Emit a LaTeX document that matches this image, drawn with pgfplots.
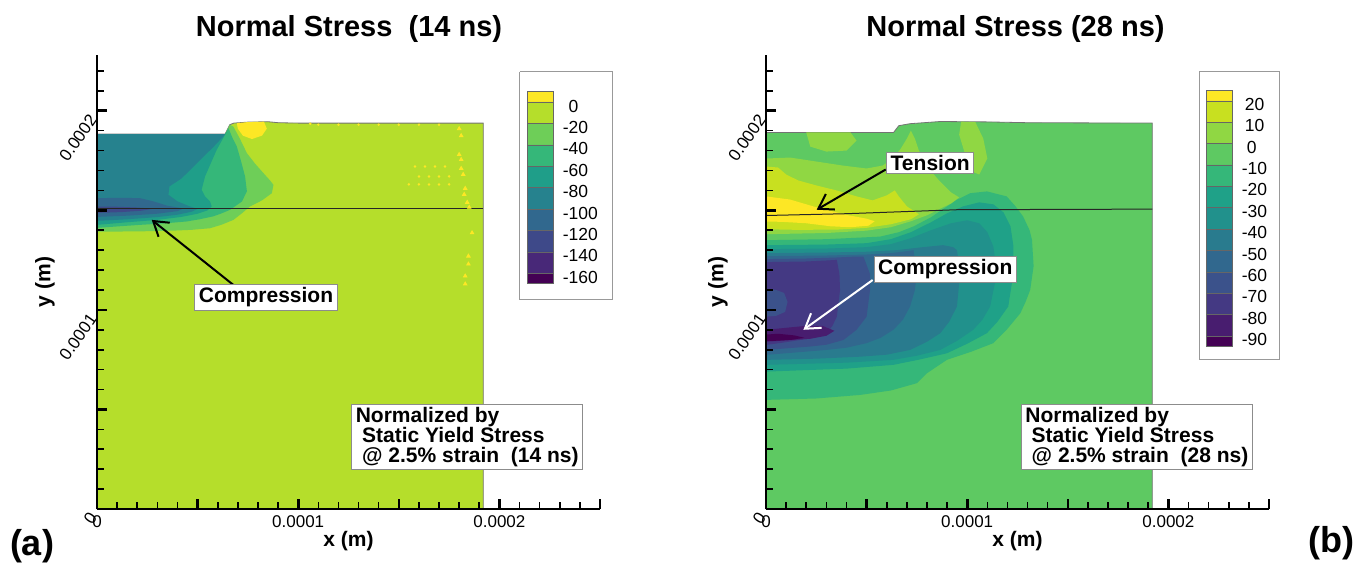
\documentclass[border=0pt]{standalone}
\usepackage{fontspec}
\setmainfont{Liberation Sans}
\usepackage{pgfplots}
\pgfplotsset{compat=1.18}
\usetikzlibrary{arrows.meta}

% contour levels, 14 ns (step 20)
\definecolor{aA}{HTML}{FDE725}
\definecolor{aB}{HTML}{B5DE2B}
\definecolor{aC}{HTML}{6ECE58}
\definecolor{aD}{HTML}{35B779}
\definecolor{aE}{HTML}{1F9E89}
\definecolor{aF}{HTML}{26828E}
\definecolor{aG}{HTML}{31688E}
\definecolor{aH}{HTML}{3E4989}
\definecolor{aI}{HTML}{482878}
\definecolor{aJ}{HTML}{440154}
% contour levels, 28 ns (step 10)
\definecolor{bA}{HTML}{FDE725}
\definecolor{bB}{HTML}{C8E020}
\definecolor{bC}{HTML}{90D743}
\definecolor{bD}{HTML}{5EC962}
\definecolor{bE}{HTML}{35B779}
\definecolor{bF}{HTML}{1FA188}
\definecolor{bG}{HTML}{21918C}
\definecolor{bH}{HTML}{297B8E}
\definecolor{bI}{HTML}{31688E}
\definecolor{bJ}{HTML}{3B528B}
\definecolor{bK}{HTML}{443983}
\definecolor{bL}{HTML}{481D6F}
\definecolor{bM}{HTML}{440154}

\tikzset{
  lbl/.style={font=\bfseries\fontsize{10.5}{10}\selectfont, fill=white, draw=black!45, line width=0.5pt, inner xsep=2pt, inner ysep=1.5pt},
  cbl/.style={font=\fontsize{8.75}{10}\selectfont, anchor=west, inner sep=0pt},
}
\pgfplotsset{
  region/.style={draw=none, fill=#1},
  swatch/.style={draw=black!60, line width=0.3pt, fill=#1},
  stressaxis/.style={
    anchor=south west, scale only axis,
    width=251.5pt, height=227pt,
    xmin=0, xmax=250, ymin=0, ymax=228,
    axis x line=bottom, axis y line=left,
    axis line style={line width=1.3pt, -},
    tick align=inside,
    xtick={0,50,100,150,200,250}, xticklabels={0,,0.0001,,0.0002,},
    ytick={0,50,100,150,200}, yticklabels={0,,0.0001,,0.0002},
    major tick length=5pt,
    major tick style={line width=1.3pt, black},
    tick label style={font=\fontsize{8.5}{10}\selectfont},
    yticklabel style={rotate=55, anchor=east},
    clip=false, axis on top,
  },
}
% short minor tick marks every 1e-5 m along both axis lines
\newcommand\minorticks{%
  \addplot[ycomb, black, line width=0.8pt, forget plot] coordinates {(10,3.5) (20,3.5) (30,3.5) (40,3.5) (60,3.5) (70,3.5) (80,3.5) (90,3.5) (110,3.5) (120,3.5) (130,3.5) (140,3.5) (160,3.5) (170,3.5) (180,3.5) (190,3.5) (210,3.5) (220,3.5) (230,3.5) (240,3.5)};
  \addplot[xcomb, black, line width=0.8pt, forget plot] coordinates {(3.5,10) (3.5,20) (3.5,30) (3.5,40) (3.5,60) (3.5,70) (3.5,80) (3.5,90) (3.5,110) (3.5,120) (3.5,130) (3.5,140) (3.5,160) (3.5,170) (3.5,180) (3.5,190) (3.5,210) (3.5,220)};
}

\begin{document}
\begin{tikzpicture}
\path (0,0) rectangle (685pt,282.5pt);

% ---------------- 14 ns ----------------
\begin{axis}[stressaxis, at={(48.5pt,28pt)}]
% specimen (background level -20..0)
\addplot[region=aB, draw=black!55, line width=0.4pt] coordinates {(0,0) (192,0) (192,193.8) (100,193.8) (90,194) (85,194.5) (75,194.3) (68,193.8) (66,193) (63.7,188.3) (0,188.3) (0,0)};
% nested compressive zones
\addplot[region=aC] coordinates {(0,188.3) (63.7,188.3) (66,193) (67.8,192) (71,186) (74.5,178.7) (78.5,173.5) (82.7,168.7) (86,165) (87.7,162.8) (86.9,158.6) (82,155) (76,151.9) (72,148.5) (67.8,145.2) (62,142.8) (56.2,141) (47,140.2) (38,139.8) (20,139.4) (0,139.3)};
\addplot[region=aD] coordinates {(0,188.3) (63.7,188.3) (65.3,191.3) (67.5,186) (69.5,182) (71.5,175) (73.6,167) (74.5,159.5) (72,154.4) (66.2,150.3) (62,148.5) (57.9,147) (51,145.5) (44.6,144.4) (33,143.4) (21.4,142.7) (0,141.2)};
\addplot[region=aE] coordinates {(0,188.3) (63.7,188.3) (64.5,189.5) (62,185) (59.5,180.4) (56.5,173.5) (53.7,167) (52,160.3) (53.7,157) (56.2,154.4) (57,152) (55,150) (50,148.3) (42,146.7) (30,145.2) (15,144) (0,142.7)};
\addplot[region=aF] coordinates {(0,188.3) (63.7,188.3) (62.7,187) (58,182) (53,177) (47,171) (42,166) (36,162) (35.5,157.8) (40,154.5) (46,152) (50,150.7) (47,149.3) (40,147.8) (30,146.6) (15,145.5) (0,144.7)};
\addplot[region=aG] coordinates {(0,156.1) (12,156.3) (21.4,156.1) (28,154.5) (35,152.3) (43,150.9) (40,149.6) (30,148.3) (15,147.3) (0,146.7)};
\addplot[region=aH] coordinates {(0,151.8) (10,151.8) (20,151.4) (28,150.8) (22,149.8) (12,149.1) (0,148.7)};
% tensile spots
\addplot[region=aA] coordinates {(69.5,193.8) (75,194.3) (83,194.5) (84.4,191) (82,187.5) (77,185.8) (72.5,187.5) (70,191)};
\addplot[only marks, mark=triangle*, mark size=1pt, color=aA] coordinates {(180,191) (181,187.5) (180,178) (181,175.5) (181,171) (182,168) (183,161) (182.5,158) (184,154) (185,151.5) (186.4,138.7) (184.6,127) (184.6,123) (183,117) (183,113)};
\addplot[only marks, mark=*, mark size=0.4pt, color=aA] coordinates {(158,172) (163,172) (168,172) (173,172) (160,167) (165,167) (170,167) (175,167) (155,163) (160,163) (165,163) (170,163) (175,163) (110,193) (120,193) (130,193) (140,193) (150,193) (160,193) (170,193) (106,193.5)};
% material interface
\addplot[black!85, line width=0.5pt] coordinates {(0,150.7) (192,150.7)};
\minorticks

% colour key
\addplot[draw=black!40, line width=0.5pt, fill=white] coordinates {(210,219.6) (256.2,219.6) (256.2,105) (210,105) (210,219.6)};
\addplot[swatch=aA] coordinates {(214,204.4) (227,204.4) (227,209.7) (214,209.7) (214,204.4)};
\addplot[swatch=aB] coordinates {(214,193.65) (227,193.65) (227,204.4) (214,204.4) (214,193.65)};
\addplot[swatch=aC] coordinates {(214,182.9) (227,182.9) (227,193.65) (214,193.65) (214,182.9)};
\addplot[swatch=aD] coordinates {(214,172.15) (227,172.15) (227,182.9) (214,182.9) (214,172.15)};
\addplot[swatch=aE] coordinates {(214,161.4) (227,161.4) (227,172.15) (214,172.15) (214,161.4)};
\addplot[swatch=aF] coordinates {(214,150.65) (227,150.65) (227,161.4) (214,161.4) (214,150.65)};
\addplot[swatch=aG] coordinates {(214,139.9) (227,139.9) (227,150.65) (214,150.65) (214,139.9)};
\addplot[swatch=aH] coordinates {(214,129.15) (227,129.15) (227,139.9) (214,139.9) (214,129.15)};
\addplot[swatch=aI] coordinates {(214,118.4) (227,118.4) (227,129.15) (214,129.15) (214,118.4)};
\addplot[swatch=aJ] coordinates {(214,113.1) (227,113.1) (227,118.4) (214,118.4) (214,113.1)};
\node[cbl] at (231.3,202.4) {\phantom{-}0};
\node[cbl] at (231.3,191.65) {-20};
\node[cbl] at (231.3,180.9) {-40};
\node[cbl] at (231.3,170.15) {-60};
\node[cbl] at (231.3,159.4) {-80};
\node[cbl] at (231.3,148.65) {-100};
\node[cbl] at (231.3,137.9) {-120};
\node[cbl] at (231.3,127.15) {-140};
\node[cbl] at (231.3,116.4) {-160};

% annotations
\draw[black, line width=1pt, -{Straight Barb[length=7pt,width=9pt]}] (67.7,112.6) -- (27.2,145.2);
\node[lbl] at (84,106.3) {Compression};
\node[lbl, anchor=north west, align=left] at (126.4,52.8) {Normalized by\\\hspace{0.3em}Static Yield Stress\\\hspace{0.3em}@ 2.5\% strain~~(14 ns)};
\end{axis}

% ---------------- 28 ns ----------------
\begin{axis}[stressaxis, at={(383pt,28pt)}]
% specimen (background level -10..0)
\addplot[region=bD, draw=black!55, line width=0.4pt] coordinates {(0,0) (192,0) (192,193.8) (130,194) (110,194.4) (86.6,194.6) (71.6,193.5) (66,192.5) (63.4,189.1) (0,189.1) (0,0)};
% compressive lobe, outer to inner
\addplot[region=bE] coordinates {(0,135) (30,135.5) (56.7,136.8) (66,139) (73.3,141.9) (82,146.5) (89.9,151.9) (94.9,155.3) (101.5,158.6) (109.8,159.5) (119.6,157) (124,152) (127.8,146.9) (131,140) (132.2,135.2) (133,122) (131.3,110) (129,104) (126.4,98.3) (120,90.5) (113,83.3) (102,79) (89.9,74.9) (80,68.2) (75,63.2) (62,59.5) (46.8,57.3) (25,55.5) (0,54.8)};
\addplot[region=bF] coordinates {(0,132.5) (30,132.8) (50,133.5) (62,135.5) (72,139) (82,144) (90,148.5) (98,152) (106,154) (113,153) (118,149) (121.5,142) (123,131.8) (123,118.6) (120.4,101.7) (115,94) (109.8,88.3) (100,83) (89.9,78.2) (76,75) (63.3,72.4) (40,70.5) (0,69)};
\addplot[region=bG] coordinates {(0,130.5) (30,130.8) (50,131.5) (62,133) (72,136) (82,140) (92,143.5) (100,145) (106,143.5) (110,139) (113,131.8) (114.8,118.6) (111.4,101.7) (107.5,95) (103,90) (95,84.5) (86.6,79.9) (75,77) (63.2,74.9) (40,73.5) (0,72.4)};
\addplot[region=bH] coordinates {(0,128.5) (30,128.8) (50,129.2) (65,130) (78,131.5) (88,132.5) (93,131.5) (94.9,130) (96.5,118.6) (94.9,101.7) (91,94) (86.6,88.3) (80,84) (71.6,79.9) (60,77.5) (46.8,76.5) (25,75.5) (0,74.9)};
\addplot[region=bI] coordinates {(0,127) (30,127.3) (50,127.8) (62,128.5) (70,129.5) (73.3,130) (75,118.6) (74,110) (71.6,101.7) (68,95) (63.3,90) (57,86) (50,83.3) (40,81) (30.2,79.9) (0,77.4)};
\addplot[region=bJ] coordinates {(0,125.5) (20,125.8) (35,126.3) (45,126.8) (48.4,126.8) (51.7,118) (51.7,110) (50,96.6) (45,90) (38.5,84.9) (30,82.5) (21.9,81.6) (0,79.9)};
\addplot[region=bK] coordinates {(0,124) (20,124.3) (30,124.8) (35.2,125.1) (36.5,118) (36.8,110) (35.2,96.6) (33,92) (30.2,88.3) (24,86) (17,84.9) (8,83.5) (0,82.4)};
\addplot[region=bJ] coordinates {(0,110.5) (5,110) (9,108.5) (10.7,104) (9.5,99) (5,97) (0,96.6)};
\addplot[region=bL] coordinates {(0,90) (10,91) (20,92) (28,92) (34,89.5) (30,87) (22,85.5) (12,84.8) (0,84)};
\addplot[region=bM] coordinates {(0,87.6) (6,88) (14,87.2) (19,86) (13,85) (5,84.5) (0,84.4)};
% tensile zone near the interface
\addplot[region=bC] coordinates {(0,176) (12,176.5) (25,174.5) (38,172.5) (50,171) (58,172.5) (63,176) (67,181) (70,186) (72,190) (74,186) (76,180) (80,172) (86,165) (92,159) (96,156.5) (92,153.5) (86,150.5) (80,147.5) (72,144.5) (62,141.5) (50,139.8) (30,138.6) (0,138)};
\addplot[region=bC] coordinates {(20,189.1) (42,189.1) (45,185) (40,180) (30,179.5) (22,182)};
\addplot[region=bC] coordinates {(97,194.5) (104,194.4) (108,186) (110,176) (106,168) (101,170) (99,178) (96,188)};
\addplot[region=bB] coordinates {(0,172) (6,171.5) (10,168) (16,165) (25,162.5) (35,160) (45,157) (53,155) (60,157.5) (64,160) (66,157) (70,152) (76,148) (72,145.5) (62,143) (50,141.2) (35,140.3) (15,140.2) (0,140.5)};
\addplot[region=bA] coordinates {(0,157) (12,155.4) (23.4,152) (33,149.5) (40,147.7) (50,145.8) (54,144.5) (51,142.3) (42,141.5) (32,142) (20,143.5) (8,144.2) (0,144.4)};
% material interface
\addplot[black!85, line width=0.5pt] coordinates {(0,147.4) (40,148.3) (95,150.3) (192,150.6)};
\minorticks

% colour key
\addplot[draw=black!40, line width=0.5pt, fill=white] coordinates {(215.4,219.6) (255.2,219.6) (255.2,74.9) (215.4,74.9) (215.4,219.6)};
\addplot[swatch=bA] coordinates {(218.9,205) (232,205) (232,210.1) (218.9,210.1) (218.9,205)};
\addplot[swatch=bB] coordinates {(218.9,194.26) (232,194.26) (232,205) (218.9,205) (218.9,194.26)};
\addplot[swatch=bC] coordinates {(218.9,183.52) (232,183.52) (232,194.26) (218.9,194.26) (218.9,183.52)};
\addplot[swatch=bD] coordinates {(218.9,172.78) (232,172.78) (232,183.52) (218.9,183.52) (218.9,172.78)};
\addplot[swatch=bE] coordinates {(218.9,162.04) (232,162.04) (232,172.78) (218.9,172.78) (218.9,162.04)};
\addplot[swatch=bF] coordinates {(218.9,151.3) (232,151.3) (232,162.04) (218.9,162.04) (218.9,151.3)};
\addplot[swatch=bG] coordinates {(218.9,140.56) (232,140.56) (232,151.3) (218.9,151.3) (218.9,140.56)};
\addplot[swatch=bH] coordinates {(218.9,129.82) (232,129.82) (232,140.56) (218.9,140.56) (218.9,129.82)};
\addplot[swatch=bI] coordinates {(218.9,119.08) (232,119.08) (232,129.82) (218.9,129.82) (218.9,119.08)};
\addplot[swatch=bJ] coordinates {(218.9,108.34) (232,108.34) (232,119.08) (218.9,119.08) (218.9,108.34)};
\addplot[swatch=bK] coordinates {(218.9,97.6) (232,97.6) (232,108.34) (218.9,108.34) (218.9,97.6)};
\addplot[swatch=bL] coordinates {(218.9,86.86) (232,86.86) (232,97.6) (218.9,97.6) (218.9,86.86)};
\addplot[swatch=bM] coordinates {(218.9,81.6) (232,81.6) (232,86.86) (218.9,86.86) (218.9,81.6)};
\node[cbl] at (237.8,203.2) {20};
\node[cbl] at (237.8,192.46) {10};
\node[cbl] at (238.8,181.72) {0};
\node[cbl] at (236.3,170.98) {-10};
\node[cbl] at (236.3,160.24) {-20};
\node[cbl] at (236.3,149.5) {-30};
\node[cbl] at (236.3,138.76) {-40};
\node[cbl] at (236.3,128.02) {-50};
\node[cbl] at (236.3,117.28) {-60};
\node[cbl] at (236.3,106.54) {-70};
\node[cbl] at (236.3,95.8) {-80};
\node[cbl] at (236.3,85.06) {-90};

% annotations
\draw[black, line width=1pt, -{Straight Barb[length=7pt,width=9pt]}] (59.5,170.5) -- (25.2,150.3);
\draw[white, line width=1pt, -{Straight Barb[length=7pt,width=9pt]}] (53,115) -- (18.6,90);
\node[lbl] at (81.6,173.9) {Tension};
\node[lbl] at (89.1,120.4) {Compression};
\node[lbl, anchor=north west, align=left] at (126.7,52.8) {Normalized by\\\hspace{0.3em}Static Yield Stress\\\hspace{0.3em}@ 2.5\% strain~~(28 ns)};
\end{axis}

% titles, axis names and panel letters
\node[font=\bfseries\fontsize{14.5}{17}\selectfont, anchor=base] at (174.5pt,264.2pt) {Normal Stress~~(14 ns)};
\node[font=\bfseries\fontsize{14.5}{17}\selectfont, anchor=base] at (507.75pt,264.2pt) {Normal Stress (28 ns)};
\node[font=\bfseries\fontsize{10.5}{12}\selectfont, anchor=base] at (174.25pt,9.2pt) {x (m)};
\node[font=\bfseries\fontsize{10.5}{12}\selectfont, anchor=base] at (508.75pt,9.2pt) {x (m)};
\node[font=\bfseries\fontsize{10.5}{12}\selectfont, rotate=90] at (22.5pt,141.5pt) {y (m)};
\node[font=\bfseries\fontsize{10.5}{12}\selectfont, rotate=90] at (359pt,141.5pt) {y (m)};
\node[font=\bfseries\fontsize{18}{20}\selectfont, anchor=base] at (16pt,5pt) {(a)};
\node[font=\bfseries\fontsize{18}{20}\selectfont, anchor=base] at (665.5pt,6.5pt) {(b)};
\end{tikzpicture}
\end{document}
